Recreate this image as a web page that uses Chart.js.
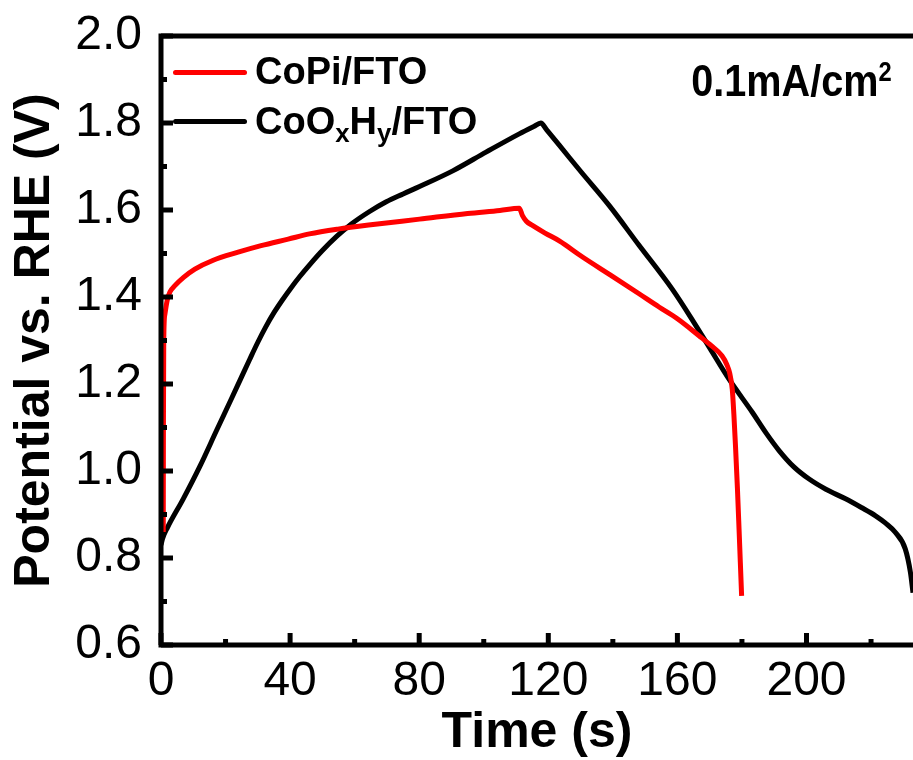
<!DOCTYPE html>
<html lang="en">
<head>
    <meta charset="UTF-8">
    <title>CoPi/FTO vs CoOxHy/FTO at 0.1 mA/cm2</title>
    <script src="https://cdn.jsdelivr.net/npm/chart.js"></script>
    <style>
        body {
            margin: 0;
            background: #fff;
            font-family: Arial, "Liberation Sans", sans-serif;
        }
        #wrap {
            position: relative;
            width: 913px;
            height: 760px;
        }
        .txt {
            position: absolute;
            font-weight: bold;
            color: #000;
            white-space: nowrap;
            line-height: 1;
        }
        .txt sub {
            font-size: 0.68em;
            vertical-align: baseline;
            position: relative;
            top: 0.32em;
        }
        .txt sup {
            font-size: 0.6em;
            vertical-align: baseline;
            position: relative;
            top: -0.55em;
        }
        .key {
            position: absolute;
            height: 5px;
            border-radius: 3px;
        }
    </style>
</head>
<body>
<div id="wrap">
    <canvas id="myChart" width="913" height="760"></canvas>
    <div class="key" style="left:173px; top:70px; width:74px; background:#ff0000;"></div>
    <div class="txt" style="left:255px; top:52px; font-size:38px;">CoPi/FTO</div>
    <div class="key" style="left:173px; top:119px; width:74px; background:#000;"></div>
    <div class="txt" style="left:255px; top:102px; font-size:38px;">CoO<sub>x</sub>H<sub>y</sub>/FTO</div>
    <div class="txt" style="right:21px; top:58px; font-size:45px; transform:scaleX(0.88); transform-origin:right top;">0.1mA/cm<sup>2</sup></div>
</div>

<script>
    // CoPi/FTO
    const copiTime = [0.7, 0.75, 0.85, 1.2, 2, 2.8, 4.3, 7, 10.5, 16, 23.9, 31, 39.4, 46, 54.8, 65, 80.1, 95, 105, 111,
        112, 113.2, 115.2, 119, 123.4, 130.6, 140, 148, 154.3, 160, 166.7, 170.5, 173.8, 175.3, 176.2, 177, 177.5, 178, 178.6, 179.1, 179.5, 179.9];
    const copiPotential = [0.86, 1.1, 1.3, 1.36, 1.395, 1.412, 1.426, 1.445, 1.464, 1.484, 1.503, 1.518, 1.533, 1.545, 1.556, 1.566, 1.579, 1.592, 1.599, 1.604,
        1.587, 1.574, 1.564, 1.547, 1.529, 1.492, 1.447, 1.408, 1.377, 1.35, 1.311, 1.288, 1.265, 1.245, 1.225, 1.188, 1.13, 1.058, 0.96, 0.867, 0.79, 0.713];

    // CoOxHy/FTO
    const cooxTime = [0, 0.5, 2, 6.9, 12, 17.2, 22, 24.5, 27.5, 30, 32.5, 35, 37.5, 40, 43, 46.5, 50, 54.5, 59, 64.5, 69.8, 75, 80.1, 90.4, 100.7, 111, 115.5, 117.7,
        119.5, 123.4, 130, 138.9, 148, 158.4, 165, 170, 176, 183.2, 187.5, 191.5, 196, 200.7, 206, 212.1, 217, 221.4, 224.5, 227.5, 230.6, 232.2, 233];
    const cooxPotential = [0.83, 0.845, 0.87, 0.936, 1.01, 1.093, 1.169, 1.209, 1.257, 1.296, 1.332, 1.364, 1.392, 1.418, 1.447, 1.478, 1.507, 1.54, 1.568, 1.596, 1.619, 1.637, 1.654, 1.69, 1.733, 1.775, 1.792, 1.80,
        1.784, 1.749, 1.689, 1.61, 1.52, 1.418, 1.343, 1.283, 1.211, 1.135, 1.087, 1.047, 1.01, 0.982, 0.958, 0.936, 0.916, 0.897, 0.88, 0.859, 0.821, 0.767, 0.72];

    const timeTicks = [0, 40, 80, 120, 160, 200];
    const timeMinor = [20, 60, 100, 140, 180, 220];
    const potentialTicks = [0.6, 0.8, 1.0, 1.2, 1.4, 1.6, 1.8, 2.0];
    const potentialMinor = [0.7, 0.9, 1.1, 1.3, 1.5, 1.7, 1.9];

    const toPoints = (xs, ys) => xs.map((x, i) => ({ x: x, y: ys[i] }));

    // frame (left, bottom, top) and inward tick marks
    const frameTicks = {
        id: 'frameTicks',
        afterDatasetsDraw(chart) {
            const { ctx, chartArea: a, scales: { x, y } } = chart;
            ctx.save();
            ctx.strokeStyle = '#000';
            ctx.lineCap = 'butt';
            ctx.lineWidth = 5;
            timeTicks.forEach(v => {
                const px = x.getPixelForValue(v);
                ctx.beginPath(); ctx.moveTo(px, a.bottom); ctx.lineTo(px, a.bottom - 12); ctx.stroke();
            });
            timeMinor.forEach(v => {
                const px = x.getPixelForValue(v);
                ctx.beginPath(); ctx.moveTo(px, a.bottom); ctx.lineTo(px, a.bottom - 6); ctx.stroke();
            });
            potentialTicks.forEach(v => {
                const py = y.getPixelForValue(v);
                ctx.beginPath(); ctx.moveTo(a.left, py); ctx.lineTo(a.left + 12, py); ctx.stroke();
            });
            potentialMinor.forEach(v => {
                const py = y.getPixelForValue(v);
                ctx.beginPath(); ctx.moveTo(a.left, py); ctx.lineTo(a.left + 6, py); ctx.stroke();
            });
            ctx.lineCap = 'square';
            ctx.beginPath();
            ctx.moveTo(a.right + 5, a.top);
            ctx.lineTo(a.left, a.top);
            ctx.lineTo(a.left, a.bottom);
            ctx.lineTo(a.right + 5, a.bottom);
            ctx.stroke();
            ctx.restore();
        }
    };

    const ctx = document.getElementById('myChart').getContext('2d');
    new Chart(ctx, {
        type: 'line',
        data: {
            datasets: [
                {
                    label: 'CoPi/FTO',
                    data: toPoints(copiTime, copiPotential),
                    borderColor: '#ff0000',
                    borderWidth: 5,
                    pointRadius: 0,
                    fill: false,
                    cubicInterpolationMode: 'monotone'
                },
                {
                    label: 'CoOxHy/FTO',
                    data: toPoints(cooxTime, cooxPotential),
                    borderColor: '#000000',
                    borderWidth: 5,
                    pointRadius: 0,
                    fill: false,
                    cubicInterpolationMode: 'monotone'
                }
            ]
        },
        options: {
            responsive: false,
            animation: false,
            layout: { padding: { top: 36, right: 0, left: 0, bottom: 0 } },
            plugins: {
                legend: { display: false },
                tooltip: { enabled: false }
            },
            scales: {
                x: {
                    type: 'linear',
                    min: 0,
                    max: 233,
                    grid: { display: false, drawTicks: false },
                    border: { display: false },
                    afterBuildTicks: s => { s.ticks = timeTicks.map(v => ({ value: v })); },
                    afterFit: s => { s.height = 115; },
                    ticks: {
                        color: '#000',
                        font: { size: 48 },
                        padding: 8,
                        maxRotation: 0,
                        autoSkip: false
                    },
                    title: {
                        display: true,
                        text: 'Time (s)',
                        color: '#000',
                        font: { size: 50, weight: 'bold', lineHeight: 1 },
                        padding: { top: 0, bottom: 2 }
                    }
                },
                y: {
                    min: 0.6,
                    max: 2.0,
                    grid: { display: false, drawTicks: false },
                    border: { display: false },
                    afterBuildTicks: s => { s.ticks = potentialTicks.map(v => ({ value: v })); },
                    afterFit: s => { s.width = 161; },
                    ticks: {
                        color: '#000',
                        font: { size: 48, lineHeight: 0.7 },
                        padding: 19,
                        autoSkip: false,
                        callback: v => Number(v).toFixed(1)
                    },
                    title: {
                        display: true,
                        text: 'Potential vs. RHE (V)',
                        color: '#000',
                        font: { size: 50, weight: 'bold', lineHeight: 1 },
                        padding: { top: 10, bottom: 0 }
                    }
                }
            }
        },
        plugins: [frameTicks]
    });
</script>
</body>
</html>
